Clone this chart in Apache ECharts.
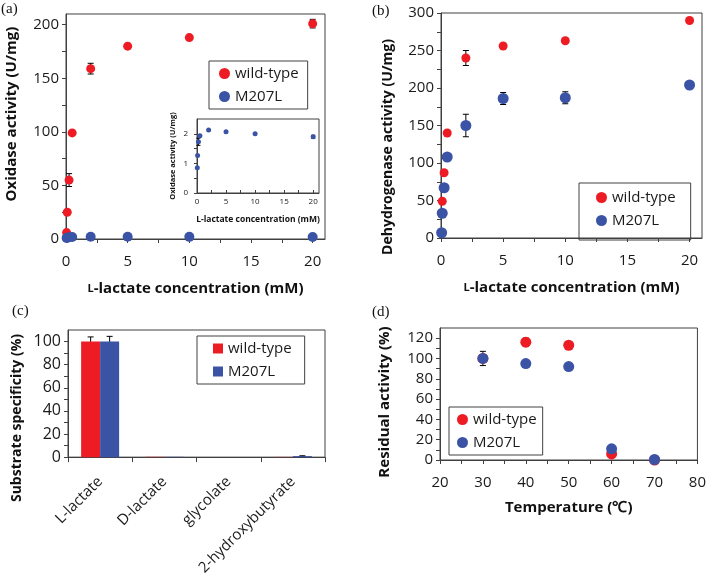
<!DOCTYPE html>
<html>
<head>
<meta charset="utf-8">
<script src="https://cdn.jsdelivr.net/npm/echarts@6/dist/echarts.min.js"></script>
<style>
  html, body { margin: 0; padding: 0; background: #fff; }
  #main { width: 709px; height: 578px; }
</style>
</head>
<body>
<div id="main"></div>
<script>
// panel (a): oxidase activity
var aConc = [0.05, 0.1, 0.25, 0.5, 2, 5, 10, 20];
var aWild = [6, 25, 55, 99, 159, 180, 188, 201];
var aWildErr = [0, 0, 6, 0, 5, 1, 2, 4];
var aMut = [0.85, 1.27, 1.73, 1.93, 2.13, 2.07, 2.0, 1.9];
var aMutErr = [0, 0, 0.12, 0, 0, 0, 0, 0.05];

// panel (b): dehydrogenase activity
var bWildConc = [0.1, 0.25, 0.5, 2, 5, 10, 20];
var bWild = [49, 87, 140, 240, 256, 263, 290];
var bWildErr = [0, 0, 0, 10, 0, 0, 0];
var bMutConc = [0.05, 0.1, 0.25, 0.5, 2, 5, 10, 20];
var bMut = [7, 33, 67, 108, 150, 186, 187, 204];
var bMutErr = [0, 0, 0, 0, 15, 8, 8, 0];

// panel (c): substrate specificity
var substrates = ['L-lactate', 'D-lactate', 'glycolate', '2-hydroxybutyrate'];
var cWild = [100, 0.3, 0, 0.2];
var cWildErr = [4, 0, 0, 0];
var cMut = [100, 0.3, 0, 0.9];
var cMutErr = [4.5, 0, 0, 0.3];

// panel (d): thermal stability
var temps = [30, 40, 50, 60, 70];
var dWild = [100, 116, 113, 6, 0];
var dWildErr = [0, 4, 3, 0, 0];
var dMut = [100, 95, 92, 11, 0.5];
var dMutErr = [7, 0, 0, 0, 0];

var RED = '#ed1c24';
var BLUE = '#3b53a5';
var AXIS = '#404040';
var FONT = 'Open Sans';

function pairs(xs, ys) {
    var out = [];
    for (var i = 0; i < xs.length; i++) out.push([xs[i], ys[i]]);
    return out;
}
function triples(xs, ys, es) {
    var out = [];
    for (var i = 0; i < xs.length; i++) out.push([xs[i], ys[i], es[i]]);
    return out;
}
function errRender(cap, offset) {
    return function (params, api) {
        var x = api.value(0), y = api.value(1), e = api.value(2);
        if (!e) return;
        var t = api.coord([x, y + e]);
        var b = api.coord([x, y - e]);
        var px = t[0] + offset;
        var st = { stroke: '#000', lineWidth: 1 };
        return {
            type: 'group',
            children: [
                { type: 'line', shape: { x1: px, y1: t[1], x2: px, y2: b[1] }, style: st },
                { type: 'line', shape: { x1: px - cap, y1: t[1], x2: px + cap, y2: t[1] }, style: st },
                { type: 'line', shape: { x1: px - cap, y1: b[1], x2: px + cap, y2: b[1] }, style: st }
            ]
        };
    };
}
function errSeries(idx, data, cap, offset) {
    return {
        name: 'err', type: 'custom', xAxisIndex: idx, yAxisIndex: idx, z: 1,
        renderItem: errRender(cap, offset), data: data, silent: true
    };
}
function gridBox(l, t, w, h, bg) {
    return { left: l, top: t, width: w, height: h, show: true, borderColor: AXIS, borderWidth: 1, backgroundColor: bg || 'transparent', containLabel: false };
}
function valAxis(idx, opts) {
    return {
        type: 'value', gridIndex: idx, min: opts.min, max: opts.max,
        name: opts.name || '', nameLocation: 'middle', nameGap: opts.nameGap,
        nameTextStyle: { fontFamily: FONT, fontSize: opts.nameSize || 15, fontWeight: 'bold', color: '#111', rich: opts.rich },
        axisLine: { show: true, onZero: false, lineStyle: { color: AXIS, width: 1 } },
        axisTick: { show: true, inside: !!opts.tickInside, length: opts.tickLen || 4, customValues: opts.ticks, lineStyle: { color: AXIS } },
        axisLabel: { customValues: opts.labels, margin: opts.margin, fontFamily: FONT, fontSize: opts.fontSize || 15, color: '#1a1a1a' },
        splitLine: { show: false }
    };
}
function yTitle(text, x, y, size) {
    return { type: 'text', x: x, y: y, rotation: Math.PI / 2,
        style: { text: text, font: 'bold ' + size + 'px "' + FONT + '"', fill: '#111', align: 'center', verticalAlign: 'middle' } };
}
function legendBox(left, top, icon, pad, size) {
    return { data: ['wild-type', 'M207L'], orient: 'vertical', left: left, top: top, icon: icon,
        itemWidth: size, itemHeight: size, itemGap: 8, padding: pad, borderColor: AXIS, borderWidth: 1,
        textStyle: { fontFamily: FONT, fontSize: 15, color: '#1a1a1a' }, selectedMode: false };
}
var smallCaps = { sc: { fontFamily: FONT, fontSize: 11, fontWeight: 'bold', color: '#111' } };

var chart = echarts.init(document.getElementById('main'));
var option = {
    animation: false,
    backgroundColor: '#fff',
    grid: [
        gridBox(66, 14, 259, 225),
        gridBox(441, 13, 261, 225),
        gridBox(68, 330, 257, 130),
        gridBox(440, 328, 259, 132),
        gridBox(197, 119, 122, 74, '#fff')
    ],
    xAxis: [
        valAxis(0, { min: 0, max: 21, name: '{sc|L}-lactate concentration (mM)', rich: smallCaps, nameGap: 42, margin: 15,
            labels: [0, 5, 10, 15, 20], ticks: [0, 2.5, 5, 7.5, 10, 12.5, 15, 17.5, 20] }),
        valAxis(1, { min: 0, max: 21, name: '{sc|L}-lactate concentration (mM)', rich: smallCaps, nameGap: 42, margin: 15,
            labels: [0, 5, 10, 15, 20], ticks: [0, 2.5, 5, 7.5, 10, 12.5, 15, 17.5, 20] }),
        {
            type: 'category', gridIndex: 2, data: substrates,
            axisLine: { lineStyle: { color: AXIS } },
            axisTick: { show: true, length: 5, lineStyle: { color: AXIS } },
            axisLabel: { rotate: 45, margin: 22, interval: 0, fontFamily: FONT, fontSize: 15, color: '#1a1a1a' },
            splitLine: { show: false }
        },
        valAxis(3, { min: 20, max: 80, name: 'Temperature (\u2103)', nameGap: 40, margin: 15,
            labels: [20, 30, 40, 50, 60, 70, 80], ticks: [20, 25, 30, 35, 40, 45, 50, 55, 60, 65, 70, 75, 80] }),
        valAxis(4, { min: 0, max: 21, name: 'L-lactate concentration (mM)', nameGap: 22, nameSize: 8.5, fontSize: 8, margin: 5,
            tickInside: true, tickLen: 3, labels: [0, 5, 10, 15, 20], ticks: [0, 2.5, 5, 7.5, 10, 12.5, 15, 17.5, 20] })
    ],
    yAxis: [
        valAxis(0, { min: 0, max: 210, margin: 7,
            labels: [0, 50, 100, 150, 200], ticks: [0, 25, 50, 75, 100, 125, 150, 175, 200] }),
        valAxis(1, { min: 0, max: 300, margin: 7,
            labels: [0, 50, 100, 150, 200, 250, 300], ticks: [0, 25, 50, 75, 100, 125, 150, 175, 200, 225, 250, 275, 300] }),
        valAxis(2, { min: 0, max: 110, margin: 7, fontSize: 16,
            labels: [0, 20, 40, 60, 80, 100], ticks: [0, 10, 20, 30, 40, 50, 60, 70, 80, 90, 100] }),
        valAxis(3, { min: 0, max: 130, margin: 7,
            labels: [0, 20, 40, 60, 80, 100, 120], ticks: [0, 10, 20, 30, 40, 50, 60, 70, 80, 90, 100, 110, 120] }),
        valAxis(4, { min: 0, max: 2.5, name: 'Oxidase activity (U/mg)', nameGap: 20, nameSize: 7.5, fontSize: 8, margin: 9,
            tickLen: 3, labels: [0, 1, 2], ticks: [0, 0.5, 1, 1.5, 2] })
    ],
    legend: [
        legendBox(209, 61, 'circle', [5, 9, 5, 10], 11),
        legendBox(579, 183, 'circle', [7, 15, 12, 17], 11),
        legendBox(197, 336, 'rect', [5, 13, 5, 16], 10),
        legendBox(449, 407, 'circle', [5, 6, 5, 8], 11)
    ],
    graphic: [
        { type: 'text', left: 1, top: 2, style: { text: '(a)', font: '15px "Liberation Serif"', fill: '#111' } },
        { type: 'text', left: 372, top: 4, style: { text: '(b)', font: '15px "Liberation Serif"', fill: '#111' } },
        { type: 'text', left: 12, top: 304, style: { text: '(c)', font: '15px "Liberation Serif"', fill: '#111' } },
        { type: 'text', left: 372, top: 305, style: { text: '(d)', font: '15px "Liberation Serif"', fill: '#111' } },
        yTitle('Oxidase activity (U/mg)', 12, 114, 15),
        yTitle('Dehydrogenase activity (U/mg)', 388, 147, 14),
        yTitle('Substrate specificity (%)', 17, 418, 14),
        yTitle('Residual activity (%)', 385, 402, 15)
    ],
    series: [
        // (a)
        errSeries(0, triples(aConc, aWild, aWildErr), 3, 0),
        { name: 'wild-type', type: 'scatter', xAxisIndex: 0, yAxisIndex: 0, symbolSize: 9, z: 2,
          itemStyle: { color: RED, opacity: 1 }, data: pairs(aConc, aWild) },
        { name: 'M207L', type: 'scatter', xAxisIndex: 0, yAxisIndex: 0, symbolSize: 10, z: 3,
          itemStyle: { color: BLUE, opacity: 1 }, data: pairs(aConc, aMut) },
        // (b)
        errSeries(1, triples(bWildConc, bWild, bWildErr), 3, 0),
        errSeries(1, triples(bMutConc, bMut, bMutErr), 3, 0),
        { name: 'wild-type', type: 'scatter', xAxisIndex: 1, yAxisIndex: 1, symbolSize: 9, z: 2,
          itemStyle: { color: RED, opacity: 1 }, data: pairs(bWildConc, bWild) },
        { name: 'M207L', type: 'scatter', xAxisIndex: 1, yAxisIndex: 1, symbolSize: 11, z: 3,
          itemStyle: { color: BLUE, opacity: 1 }, data: pairs(bMutConc, bMut) },
        // (c)
        { name: 'wild-type', type: 'bar', xAxisIndex: 2, yAxisIndex: 2, barWidth: 19, barGap: '0%',
          itemStyle: { color: RED }, data: cWild },
        { name: 'M207L', type: 'bar', xAxisIndex: 2, yAxisIndex: 2, barWidth: 19, barGap: '0%',
          itemStyle: { color: BLUE }, data: cMut },
        errSeries(2, triples([0, 1, 2, 3], cWild, cWildErr), 3, -9.5),
        errSeries(2, triples([0, 1, 2, 3], cMut, cMutErr), 3, 9.5),
        // (d)
        errSeries(3, triples(temps, dWild, dWildErr), 3, 0),
        errSeries(3, triples(temps, dMut, dMutErr), 3, 0),
        { name: 'wild-type', type: 'scatter', xAxisIndex: 3, yAxisIndex: 3, symbolSize: 11, z: 2,
          itemStyle: { color: RED, opacity: 1 }, data: pairs(temps, dWild) },
        { name: 'M207L', type: 'scatter', xAxisIndex: 3, yAxisIndex: 3, symbolSize: 11, z: 3,
          itemStyle: { color: BLUE, opacity: 1 }, data: pairs(temps, dMut) },
        // inset of (a)
        errSeries(4, triples(aConc, aMut, aMutErr), 2, 0),
        { name: 'M207L', type: 'scatter', xAxisIndex: 4, yAxisIndex: 4, symbolSize: 5, z: 3,
          itemStyle: { color: BLUE, opacity: 1 }, data: pairs(aConc, aMut) }
    ]
};
chart.setOption(option);
</script>
</body>
</html>
